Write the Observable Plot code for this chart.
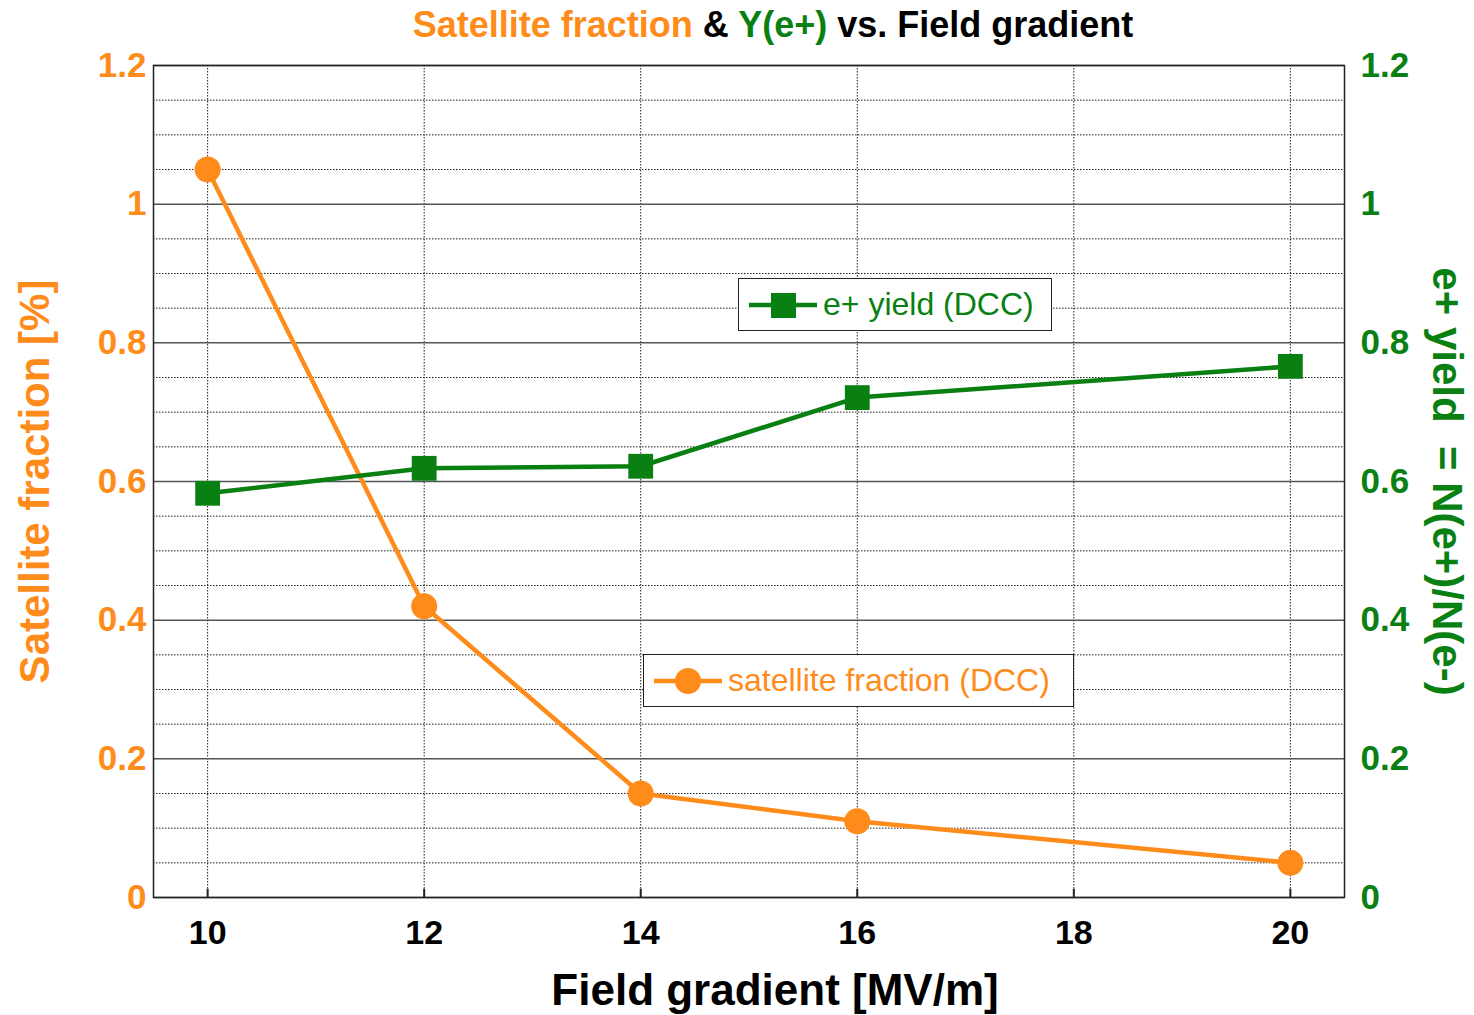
<!DOCTYPE html>
<html>
<head>
<meta charset="utf-8">
<script src="https://cdn.jsdelivr.net/npm/d3@7"></script>
<script src="https://cdn.jsdelivr.net/npm/@observablehq/plot@0.6"></script>
<style>
  html, body { margin: 0; padding: 0; background: #fff; }
  #wrap { position: relative; width: 1474px; height: 1015px; font-family: "Liberation Sans", Arial, Helvetica, sans-serif; }
  #title { position: absolute; left: 0; top: 0; width: 1474px; height: 50px; line-height: 50px; text-align: center; font-size: 36px; font-weight: bold; color: #000; padding-left: 72px; box-sizing: border-box; z-index: 2; }
  .legend { position: absolute; background: #fff; border: 1.5px solid #222; box-sizing: border-box; display: flex; align-items: center; font-size: 32px; z-index: 2; }
  .legend svg { margin-left: 10px; margin-right: 6px; }
</style>
</head>
<body>
<div id="wrap">
  <div id="chart"></div>
  <div id="title"><span style="color:#ff8c1a">Satellite fraction</span> &amp; <span style="color:#0a7f12">Y(e+)</span> vs. Field gradient</div>
  <div class="legend" style="left:738px; top:278px; width:314px; height:53px; color:#0a7f12;">
    <svg width="68" height="30"><line x1="0" y1="15" x2="68" y2="15" stroke="#0a7f12" stroke-width="4.5"/><rect x="22" y="3" width="25" height="25" fill="#0a7f12"/></svg>
    <span>e+ yield (DCC)</span>
  </div>
  <div class="legend" style="left:643px; top:654px; width:431px; height:53px; color:#ff8c1a;">
    <svg width="68" height="30"><line x1="0" y1="15" x2="68" y2="15" stroke="#ff8c1a" stroke-width="4.5"/><circle cx="34" cy="15" r="13" fill="#ff8c1a"/></svg>
    <span>satellite fraction (DCC)</span>
  </div>
</div>
<script>
// Data
const gradient = [10, 12, 14, 16, 20];
const satelliteFraction = [1.05, 0.42, 0.15, 0.11, 0.05];
const eYield = [0.583, 0.619, 0.622, 0.721, 0.766];
const xTicks = [10, 12, 14, 16, 18, 20];
const yTicks = [0, 0.2, 0.4, 0.6, 0.8, 1, 1.2];
const yMinor = [0.05, 0.1, 0.15, 0.25, 0.3, 0.35, 0.45, 0.5, 0.55, 0.65, 0.7, 0.75, 0.85, 0.9, 0.95, 1.05, 1.1, 1.15];

const ORANGE = "#ff8c1a";
const GREEN = "#0a7f12";

const sat = gradient.map((g, i) => ({x: g, y: satelliteFraction[i]}));
const yld = gradient.map((g, i) => ({x: g, y: eYield[i]}));
const fmt = d => String(d);

const chart = Plot.plot({
  width: 1474,
  height: 1015,
  marginTop: 65,
  marginBottom: 118,
  marginLeft: 153,
  marginRight: 130,
  style: {fontFamily: "'Liberation Sans', Arial, Helvetica, sans-serif", background: "#fff"},
  x: {domain: [9.5, 20.5]},
  y: {domain: [0, 1.2]},
  marks: [
    Plot.ruleY(yMinor, {stroke: "#222", strokeWidth: 1, strokeDasharray: "1.5,1.5"}),
    Plot.ruleX(xTicks, {stroke: "#222", strokeWidth: 1, strokeDasharray: "1.5,1.5"}),
    Plot.ruleY(yTicks, {stroke: "#555", strokeWidth: 1.5}),
    Plot.ruleX(xTicks, {y1: 0, y2: 0.012, stroke: "#222", strokeWidth: 2}),
    Plot.frame({stroke: "#222", strokeWidth: 1.5}),
    Plot.axisX({ticks: xTicks, tickFormat: fmt, tickSize: 0, tickPadding: 22, fontSize: 34, fontWeight: "bold", fill: "#000", label: null}),
    Plot.axisY({anchor: "left", ticks: yTicks, tickFormat: fmt, tickSize: 0, tickPadding: 7, fontSize: 35, fontWeight: "bold", fill: ORANGE, label: null}),
    Plot.axisY({anchor: "right", ticks: yTicks, tickFormat: fmt, tickSize: 0, tickPadding: 16, fontSize: 35, fontWeight: "bold", fill: GREEN, label: null}),
    Plot.text(["Field gradient [MV/m]"], {frameAnchor: "bottom", dx: 26, dy: 107, fontSize: 44, fontWeight: "bold", fill: "#000"}),
    Plot.text(["Satellite fraction [%]"], {frameAnchor: "left", textAnchor: "middle", dx: -118, rotate: -90, fontSize: 42, fontWeight: "bold", fill: ORANGE}),
    Plot.text(["e+ yield  = N(e+)/N(e-)"], {frameAnchor: "right", textAnchor: "middle", dx: 102, rotate: 90, fontSize: 42, fontWeight: "bold", fill: GREEN}),
    Plot.line(sat, {x: "x", y: "y", stroke: ORANGE, strokeWidth: 4.5}),
    Plot.dot(sat, {x: "x", y: "y", r: 13, fill: ORANGE}),
    Plot.line(yld, {x: "x", y: "y", stroke: GREEN, strokeWidth: 4.5}),
    Plot.dot(yld, {x: "x", y: "y", r: 14, symbol: "square", fill: GREEN})
  ]
});
document.getElementById("chart").appendChild(chart);
</script>
</body>
</html>
